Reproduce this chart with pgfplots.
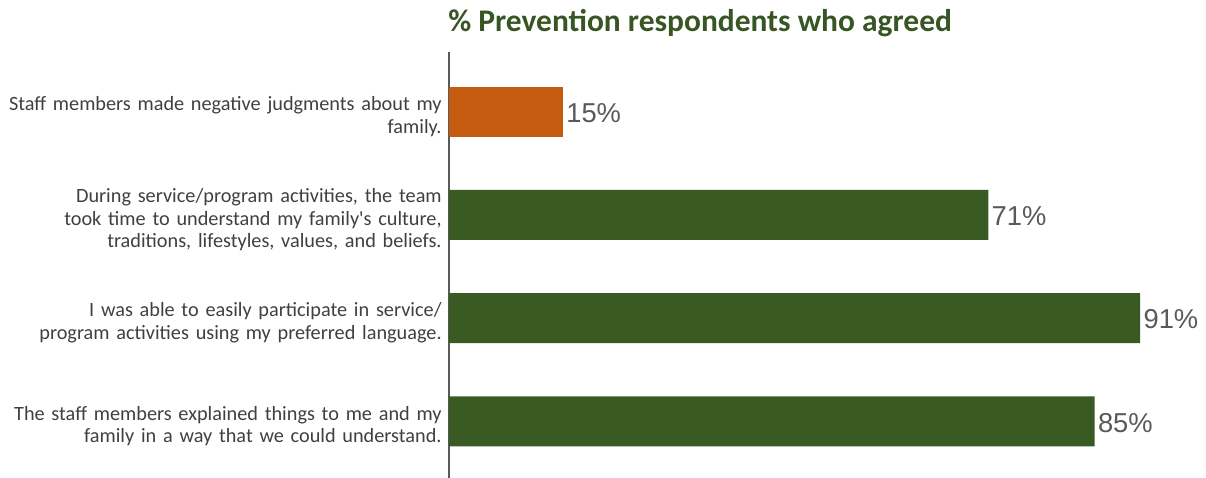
\documentclass[border=0pt]{standalone}
\usepackage{pgfplots}
\pgfplotsset{compat=1.18}
\usepackage{fontspec}
\setmainfont{Carlito}
\newfontfamily\arialf{Liberation Sans}
\definecolor{bargreen}{HTML}{3A5A24}
\definecolor{barorange}{HTML}{C55A11}
\definecolor{titlegreen}{HTML}{375623}
\definecolor{labgray}{HTML}{404040}
\definecolor{valgray}{HTML}{595959}
\begin{document}
\begin{tikzpicture}
\useasboundingbox (-336.75pt,0) rectangle (567.75pt,358.5pt);
\begin{axis}[
  scale only axis,
  width=564pt, height=319.5pt,
  xbar, bar shift=0pt, bar width=37.5pt,
  xmin=0, xmax=99,
  ymin=-0.58, ymax=3.55,
  y dir=reverse,
  hide x axis,
  axis y line*=left,
  y axis line style={valgray, line width=1.5pt, -},
  ytick={0,1,2,3},
  major tick length=0pt,
  yticklabels={
    {Staff members made negative judgments about my\\family.},
    {During service/program activities, the team\\took time to understand my family\textquotesingle s culture,\\traditions, lifestyles, values, and beliefs.},
    {I was able to easily participate in service/\\program activities using my preferred language.},
    {The staff members explained things to me and my\\family in a way that we could understand.}
  },
  yticklabel style={align=right, text width=340pt, font=\fontsize{15.2}{17}\selectfont, text=labgray, xshift=-2pt, yshift=-3.5pt},
  point meta=x,
  nodes near coords={\pgfmathprintnumber[assume math mode=true]{\pgfplotspointmeta}\%},
  nodes near coords style={font=\arialf\fontsize{20.5}{24}\selectfont, text=valgray, xshift=-1pt, yshift=-1pt},
  title={\textbf{\% Prevention respondents who agreed}},
  title style={font=\fontsize{23.6}{28}\selectfont, text=titlegreen, at={(axis description cs:0.334,1)}, anchor=south, yshift=1.5pt},
]
\addplot[fill=barorange, draw=none] coordinates {(15,0)};
\addplot[fill=bargreen, draw=none] coordinates {(71,1) (91,2) (85,3)};
\end{axis}
\end{tikzpicture}
\end{document}
